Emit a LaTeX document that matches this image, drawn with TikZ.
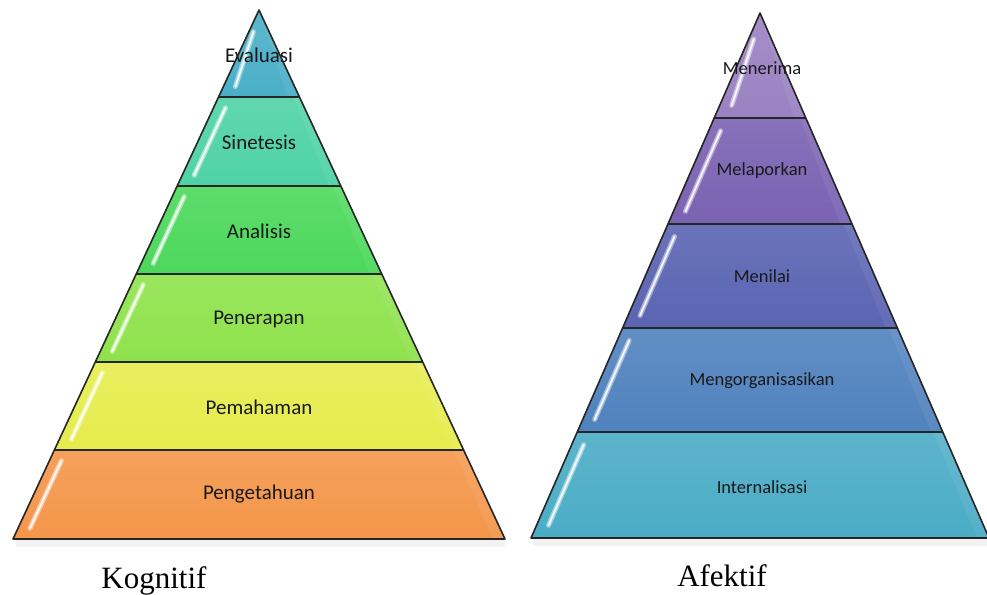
\documentclass[tikz,border=0pt]{standalone}
\usepackage{fontspec}
\setmainfont{Liberation Serif}
\newfontfamily\labelfont{Carlito}

% One band of a pyramid.
% #1 centre x, #2 apex y, #3 base y, #4 base half width,
% #5 band top y, #6 band bottom y, #7 fill colour, #8 start of the gloss stroke (fraction)
\newcommand\pyrband[8]{%
  \pgfmathsetmacro\slope{#4/(#3-#2)}%
  \pgfmathsetmacro\hwTop{\slope*(#5-#2)}%
  \pgfmathsetmacro\hwBot{\slope*(#6-#2)}%
  \pgfmathsetmacro\rimTop{max(\hwTop-12*\hwTop/\hwBot,0)}%
  \fill[top color=#7!90!white, bottom color=#7]
    (#1-\hwTop,#5) -- (#1+\hwTop,#5) -- (#1+\hwBot,#6) -- (#1-\hwBot,#6) -- cycle;
  % soft lighter rim along the right side
  \fill[white, opacity=0.06]
    (#1+\hwTop,#5) -- (#1+\hwBot,#6) -- (#1+\hwBot-12,#6) -- (#1+\rimTop,#5) -- cycle;
  % glossy stroke along the left side
  \pgfmathsetmacro\gyA{#5+#8*(#6-#5)}%
  \pgfmathsetmacro\gyB{#6-0.12*(#6-#5)}%
  \pgfmathsetmacro\ghA{\slope*(\gyA-#2)}%
  \pgfmathsetmacro\ghB{\slope*(\gyB-#2)}%
  \pgfmathsetmacro\goA{min(12,0.45*\ghA)}%
  \draw[gloss] (#1-\ghA+\goA,\gyA) -- (#1-\ghB+12,\gyB);
  \draw[glosscore] (#1-\ghA+\goA,\gyA) -- (#1-\ghB+12,\gyB);
  \draw[rim] (#1-\hwTop,#5) -- (#1+\hwTop,#5);
}

\begin{document}
\begin{tikzpicture}[x=1pt,y=-1pt,
  gloss/.style={white, line width=5pt, line cap=round, opacity=0.45},
  glosscore/.style={white, line width=2pt, line cap=round, opacity=0.85},
  rim/.style={draw=black!85, line width=1.5pt},
  outline/.style={draw=black!85, line width=1.6pt, line join=round},
  tierL/.style={font=\labelfont\fontsize{21}{21}\selectfont, text=black!90, inner sep=0pt},
  tierR/.style={font=\labelfont\fontsize{18.5}{18.5}\selectfont, text=black!90, inner sep=0pt},
  caption/.style={font=\fontsize{31}{31}\selectfont, inner sep=0pt, anchor=base}]
\useasboundingbox (0,0) rectangle (987,594);
\clip (0,0) rectangle (987,594);

% ---------- colours ----------
\definecolor{cEval}{HTML}{4BAFC8}
\definecolor{cSint}{HTML}{4FD2A6}
\definecolor{cAnal}{HTML}{4CD85C}
\definecolor{cPene}{HTML}{8FE24C}
\definecolor{cPema}{HTML}{E6EC4C}
\definecolor{cPeng}{HTML}{F4964A}
\definecolor{cMene}{HTML}{9A82C2}
\definecolor{cMela}{HTML}{7A62B2}
\definecolor{cMeni}{HTML}{5A64B2}
\definecolor{cMeng}{HTML}{5082BE}
\definecolor{cInte}{HTML}{4BACC6}

% ---------- soft shadows under the bases ----------
\foreach \i in {1,...,7}{
  \draw[black, opacity=0.05] (16,539+\i) -- (505,539+\i);
  \draw[black, opacity=0.05] (533,538+\i) -- (987,538+\i);
}

% ---------- Kognitif pyramid: apex (259,10), base y 539, half width 246 ----------
\pyrband{259}{10}{539}{246}{10}{97}{cEval}{0.25}
\pyrband{259}{10}{539}{246}{97}{186}{cSint}{0.12}
\pyrband{259}{10}{539}{246}{186}{274}{cAnal}{0.12}
\pyrband{259}{10}{539}{246}{274}{362}{cPene}{0.12}
\pyrband{259}{10}{539}{246}{362}{450}{cPema}{0.12}
\pyrband{259}{10}{539}{246}{450}{539}{cPeng}{0.12}
\draw[outline] (259,10) -- (505,539) -- (13,539) -- cycle;

% ---------- Afektif pyramid: apex (760,13), base y 538, half width 229 ----------
\pyrband{760}{13}{538}{229}{13}{118}{cMene}{0.25}
\pyrband{760}{13}{538}{229}{118}{224}{cMela}{0.12}
\pyrband{760}{13}{538}{229}{224}{328}{cMeni}{0.12}
\pyrband{760}{13}{538}{229}{328}{432}{cMeng}{0.12}
\pyrband{760}{13}{538}{229}{432}{538}{cInte}{0.12}
\draw[outline] (760,13) -- (989,538) -- (531,538) -- cycle;

% ---------- tier labels ----------
\node[tierL] (evaluasi)    at (259,55)  {Evaluasi};
\node[tierL] (sinetesis)   at (259,142) {Sinetesis};
\node[tierL] (analisis)    at (259,231) {Analisis};
\node[tierL] (penerapan)   at (259,319) {Penerapan};
\node[tierL] (pemahaman)   at (259,407) {Pemahaman};
\node[tierL] (pengetahuan) at (259,494) {Pengetahuan};

\node[tierR] (menerima)    at (762,68)  {Menerima};
\node[tierR] (melaporkan)  at (762,171) {Melaporkan};
\node[tierR] (menilai)     at (762,276) {Menilai};
\node[tierR] (mengorg)     at (762,381) {Mengorganisasikan};
\node[tierR] (internal)    at (762,487) {Internalisasi};

% ---------- captions ----------
\node[caption] (kognitif) at (154,588) {Kognitif};
\node[caption] (afektif)  at (722,586) {Afektif};
\end{tikzpicture}
\end{document}
